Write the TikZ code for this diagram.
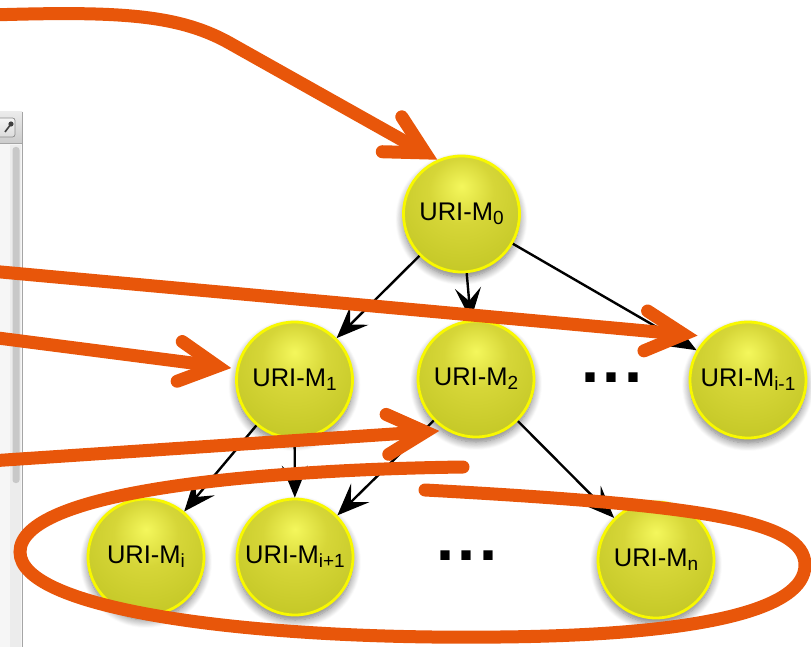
\documentclass[tikz,border=0pt]{standalone}
\usepackage{fontspec}
\setmainfont{Liberation Sans}
\usetikzlibrary{arrows.meta,shadows.blur,calc}
\definecolor{org}{RGB}{232,86,10}
\definecolor{ballhi}{RGB}{244,247,92}
\definecolor{ballmid}{RGB}{214,214,56}
\definecolor{balledge}{RGB}{192,196,34}
\definecolor{balldark}{RGB}{170,176,22}
\definecolor{ballrim}{RGB}{248,248,0}
\definecolor{panelbg}{RGB}{246,246,246}
\definecolor{panelline}{RGB}{165,165,165}
\definecolor{trackbg}{RGB}{236,236,236}
\definecolor{thumbc}{RGB}{200,200,200}
\pgfdeclareradialshading{uriball}{\pgfpoint{0bp}{12bp}}{color(0bp)=(ballhi); color(14bp)=(ballmid); color(38bp)=(balledge); color(62bp)=(balldark); color(80bp)=(balldark)}
\tikzset{
  uri/.style={circle, minimum size=116pt, inner sep=0pt, draw=ballrim, line width=2.8pt,
    shade, shading=uriball,
    blur shadow={shadow xshift=0pt, shadow yshift=-5pt, shadow blur radius=8pt, shadow blur steps=10, shadow opacity=55},
    font=\fontsize{25.5}{29}\selectfont},
  link/.style={draw=black, line width=2.4pt, -{Stealth[length=32pt,width=26pt,inset=13pt]}},
  callout/.style={draw=org, line width=13pt, -{Straight Barb[length=38pt,width=40pt,line cap=round,line join=miter]}},
  loopline/.style={draw=org, line width=13pt, line cap=round},
  dotrow/.style={anchor=base, inner sep=0pt, font=\fontsize{65}{65}\selectfont\bfseries},
}
\newcommand\subix[1]{\raisebox{-3.8pt}{\fontsize{19}{19}\selectfont #1}}
\begin{document}
\begin{tikzpicture}[x=1pt,y=-1pt]
\useasboundingbox (0,0) rectangle (811,647);
% window panel at left edge
\fill[panelbg] (0,112) rectangle (22,647);
\shade[top color=black!8, bottom color=black!20] (0,112) rectangle (22,143);
\draw[panelline, line width=0.8pt] (0,143) -- (22,143);
\shade[top color=black!4, bottom color=black!14, draw=black!45, line width=0.7pt, rounded corners=2.5pt] (-5,118) rectangle (15,137);
\fill[black!75] (11,124) circle (2.6);
\draw[black!75, line width=1.6pt] (11,124) -- (5,132);
\fill[trackbg] (10,145) rectangle (21,647);
\fill[thumbc, rounded corners=3pt] (12.5,147) rectangle (19.5,483);
\draw[panelline, line width=1pt] (22,112) -- (22,647);
% nodes
\node[uri] (m0) at (461.5,214) {URI-M\subix{0}};
\node[uri] (m1) at (294.5,380) {URI-M\subix{1}};
\node[uri] (m2) at (476,379) {URI-M\subix{2}};
\node[uri] (mim) at (748,380) {URI-M\subix{i-1}};
\node[uri] (mi) at (146,557) {URI-M\subix{i}};
\node[uri] (mip) at (295,557) {URI-M\subix{i+1}};
\node[uri] (mn) at (656,560) {URI-M\subix{n}};
\node[dotrow] (d1) at (612,382) {.\kern3pt.\kern3pt.};
\node[dotrow] (d2) at (467,560) {.\kern3pt.\kern3pt.};
% black links
\draw[link] (m0) -- (m1);
\draw[link] (m0) -- (m2);
\draw[link] (m0) -- (mim);
\draw[link] (m1) -- (mi);
\draw[link] (m1) -- (mip);
\draw[link] (m2) -- (mip);
\draw[link] (m2) -- (mn);
% orange callouts
\coordinate (s1) at (-10,15);
\coordinate (s2) at (-10,271);
\coordinate (s3) at (-10,337);
\coordinate (s4) at (-10,461);
\draw[callout] (s1) .. controls (120,11) and (180,14) .. (233,45) -- (m0.114);
\draw[callout, shorten >=10pt] (s2) -- (mim.133);
\draw[callout, shorten >=5pt] (s3) -- (m1.169);
\draw[callout, shorten >=7pt] (s4) -- (m2.240);
% orange loop
\coordinate (la) at (463,467);
\coordinate (lb) at (425,490);
\draw[loopline] (la) .. controls (250,470) and (20,492) .. (20,552) .. controls (20,610) and (250,640) .. (500,637) .. controls (700,635) and (805,610) .. (805,565) .. controls (805,520) and (700,505) .. (lb);
\end{tikzpicture}
\end{document}
